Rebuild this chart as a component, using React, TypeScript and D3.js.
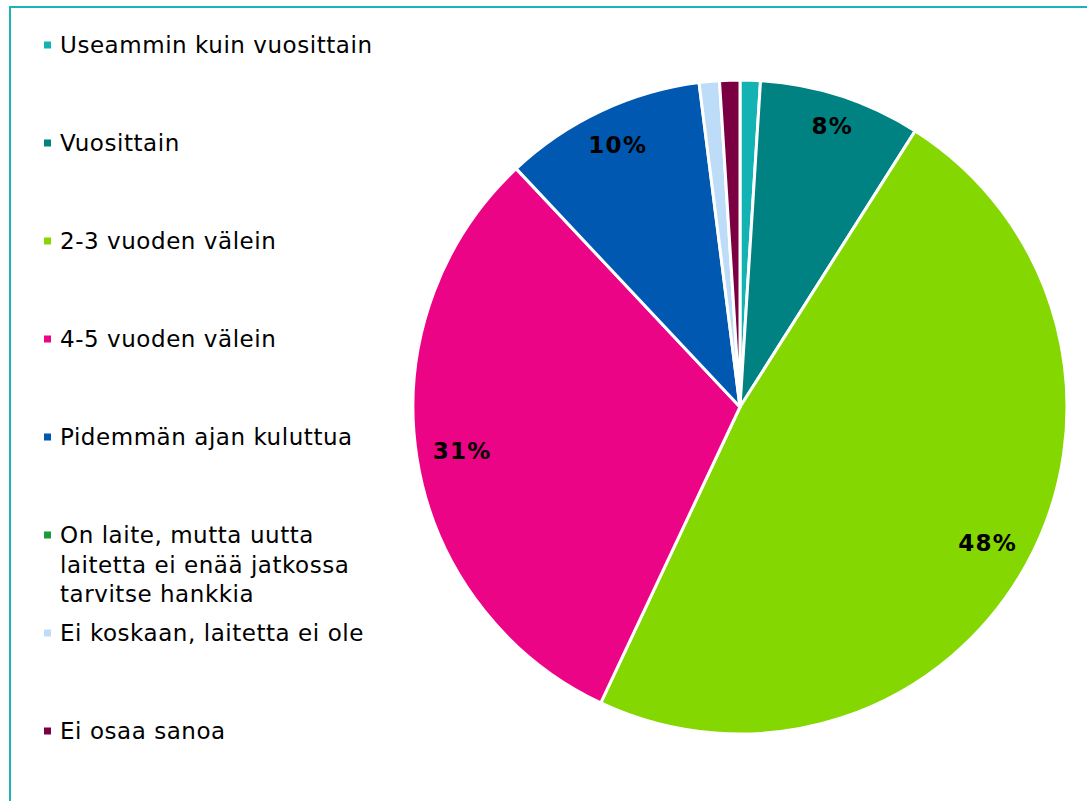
import React from "react";
import * as d3 from "d3";

const categories = [
  "Useammin kuin vuosittain",
  "Vuosittain",
  "2-3 vuoden välein",
  "4-5 vuoden välein",
  "Pidemmän ajan kuluttua",
  "On laite, mutta uutta laitetta ei enää jatkossa tarvitse hankkia",
  "Ei koskaan, laitetta ei ole",
  "Ei osaa sanoa",
];
const legendLines = [
  ["Useammin kuin vuosittain"],
  ["Vuosittain"],
  ["2-3 vuoden välein"],
  ["4-5 vuoden välein"],
  ["Pidemmän ajan kuluttua"],
  ["On laite, mutta uutta", "laitetta ei enää jatkossa", "tarvitse hankkia"],
  ["Ei koskaan, laitetta ei ole"],
  ["Ei osaa sanoa"],
];
const values = [1, 8, 48, 31, 10, 0, 1, 1];
const labels = ["", "8%", "48%", "31%", "10%", "", "", ""];
const colors = [
  "#13b3b3",
  "#008282",
  "#84d700",
  "#eb0485",
  "#0058b0",
  "#1a9a3a",
  "#bddcf8",
  "#7a0042",
];

const W = 1087;
const H = 801;
const cx = 740;
const cy = 407;
const R = 327;
const FONT = "'DejaVu Sans', Verdana, sans-serif";

export default function App() {
  const pie = d3
    .pie<number>()
    .sort(null)
    .value((d) => d)
    .startAngle(0)
    .endAngle(2 * Math.PI);
  const arcs = pie(values);
  const arc = d3.arc<d3.PieArcDatum<number>>().innerRadius(0).outerRadius(R);

  const legendX = 60;
  const legendY0 = 45;
  const legendStep = 98;
  const lineH = 29.5;

  return (
    <svg
      width={W}
      height={H}
      style={{ position: "absolute", left: 0, top: 0, background: "#fff" }}
    >
      <rect x={0} y={0} width={W} height={H} fill="#fff" />
      <rect
        x={10}
        y={7}
        width={W + 20}
        height={H + 20}
        fill="none"
        stroke="#1ab4b8"
        strokeWidth={2}
      />
      <g transform={`translate(${cx},${cy})`}>
        {arcs.map((a, i) =>
          a.value > 0 ? (
            <path
              key={i}
              d={arc(a) || ""}
              fill={colors[i]}
              stroke="#fff"
              strokeWidth={3}
              strokeLinejoin="round"
            />
          ) : null
        )}
        {arcs.map((a, i) => {
          if (!labels[i]) return null;
          const mid = (a.startAngle + a.endAngle) / 2;
          const w = labels[i].length * 20;
          const h = 26;
          const ext =
            Math.abs(Math.sin(mid)) * (w / 2) + Math.abs(Math.cos(mid)) * (h / 2);
          const r = R - 13 - ext;
          const x = Math.sin(mid) * r + 1;
          const y = -Math.cos(mid) * r;
          return (
            <text
              key={"l" + i}
              x={x}
              y={y}
              textAnchor="middle"
              dominantBaseline="central"
              fontFamily={FONT}
              fontWeight="bold"
              fontSize={23}
              letterSpacing={1.3}
              fill="#000"
            >
              {labels[i]}
            </text>
          );
        })}
      </g>
      <g>
        {legendLines.map((lines, i) => {
          const y = legendY0 + i * legendStep;
          return (
            <g key={"lg" + i}>
              <rect x={44} y={y - 3.5} width={7} height={7} fill={colors[i]} />
              {lines.map((ln, j) => (
                <text
                  key={j}
                  x={legendX}
                  y={y + j * lineH}
                  dominantBaseline="central"
                  fontFamily={FONT}
                  fontSize={23}
                  letterSpacing={0.55}
                  fill="#000"
                >
                  {ln}
                </text>
              ))}
            </g>
          );
        })}
      </g>
    </svg>
  );
}
